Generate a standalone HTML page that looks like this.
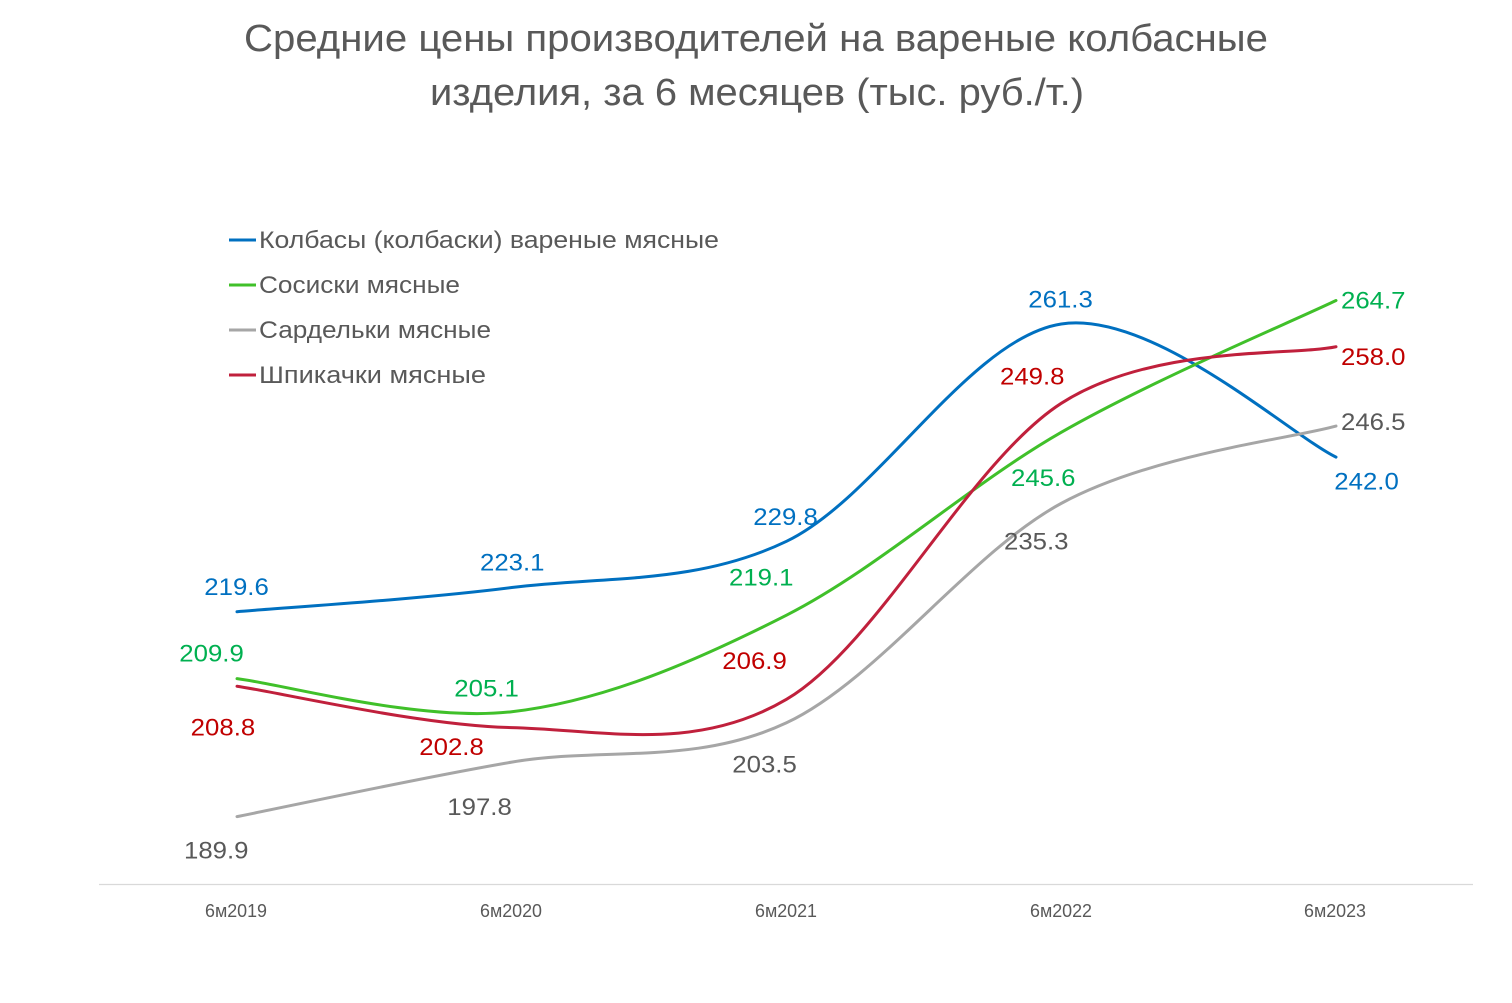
<!DOCTYPE html>
<html>
<head>
<meta charset="utf-8">
<style>
  html, body { margin:0; padding:0; background:#ffffff; }
  svg { display:block; }
  text { font-family: "Liberation Sans", "DejaVu Sans", sans-serif; }
</style>
</head>
<body>
<svg width="1512" height="1003" viewBox="0 0 1512 1003" xmlns="http://www.w3.org/2000/svg">
  <rect x="0" y="0" width="1512" height="1003" fill="#ffffff"/>

  <!-- Title -->
  <text x="244" y="51" font-size="38" fill="#595959" textLength="1024" lengthAdjust="spacingAndGlyphs">Средние цены производителей на вареные колбасные</text>
  <text x="430" y="105" font-size="38" fill="#595959" textLength="654" lengthAdjust="spacingAndGlyphs">изделия, за 6 месяцев (тыс. руб./т.)</text>

  <!-- Legend -->
  <line x1="229" y1="240" x2="256" y2="240" stroke="#0070C0" stroke-width="3"/>
  <text x="259" y="248" font-size="24" fill="#595959" textLength="460" lengthAdjust="spacingAndGlyphs">Колбасы (колбаски) вареные мясные</text>
  <line x1="229" y1="285" x2="256" y2="285" stroke="#40C02A" stroke-width="3"/>
  <text x="259" y="293" font-size="24" fill="#595959" textLength="201" lengthAdjust="spacingAndGlyphs">Сосиски мясные</text>
  <line x1="229" y1="330" x2="256" y2="330" stroke="#A6A6A6" stroke-width="3"/>
  <text x="259" y="338" font-size="24" fill="#595959" textLength="232" lengthAdjust="spacingAndGlyphs">Сардельки мясные</text>
  <line x1="229" y1="375" x2="256" y2="375" stroke="#C0203C" stroke-width="3"/>
  <text x="259" y="383" font-size="24" fill="#595959" textLength="227" lengthAdjust="spacingAndGlyphs">Шпикачки мясные</text>

  <!-- Axis line -->
  <line x1="99" y1="884.5" x2="1473" y2="884.5" stroke="#D9D9D9" stroke-width="1.2"/>

  <!-- Axis labels -->
  <g font-size="18" fill="#595959">
    <text x="205" y="917" textLength="62" lengthAdjust="spacingAndGlyphs">6м2019</text>
    <text x="480" y="917" textLength="62" lengthAdjust="spacingAndGlyphs">6м2020</text>
    <text x="755" y="917" textLength="62" lengthAdjust="spacingAndGlyphs">6м2021</text>
    <text x="1030" y="917" textLength="62" lengthAdjust="spacingAndGlyphs">6м2022</text>
    <text x="1304" y="917" textLength="62" lengthAdjust="spacingAndGlyphs">6м2023</text>
  </g>

  <!-- Series lines -->
  <g fill="none" stroke-width="3" stroke-linecap="round" stroke-linejoin="round">
    <path stroke="#0070C0" d="M237,611.7 C282.79,607.68 420.17,599.28 511.75,587.55 C603.33,575.82 694.92,585.25 786.5,541.32 C878.08,497.39 969.67,338.0 1061.25,323.97 C1152.83,309.94 1290.21,434.95 1336,457.14"/>
    <path stroke="#40C02A" d="M237,678.63 C282.79,684.15 420.17,722.33 511.75,711.75 C603.33,701.17 694.92,661.73 786.5,615.15 C878.08,568.58 969.67,484.74 1061.25,432.3 C1152.83,379.86 1290.21,322.48 1336,300.51"/>
    <path stroke="#A6A6A6" d="M237,816.63 C282.79,807.55 420.17,777.76 511.75,762.12 C603.33,746.48 694.92,765.92 786.5,722.79 C878.08,679.67 969.67,552.82 1061.25,503.37 C1152.83,453.92 1290.21,438.97 1336,426.09"/>
    <path stroke="#C0203C" d="M237,686.22 C282.79,693.12 420.17,725.44 511.75,727.62 C603.33,729.81 694.92,753.38 786.5,699.33 C878.08,645.28 969.67,462.09 1061.25,403.32 C1152.83,344.56 1290.21,356.17 1336,346.74"/>
  </g>

  <!-- Data labels: blue -->
  <g font-size="24" fill="#0070C0">
    <text x="204.3" y="595" textLength="64.5" lengthAdjust="spacingAndGlyphs">219.6</text>
    <text x="480" y="570.5" textLength="64.5" lengthAdjust="spacingAndGlyphs">223.1</text>
    <text x="753.3" y="525" textLength="64.5" lengthAdjust="spacingAndGlyphs">229.8</text>
    <text x="1028.3" y="307.3" textLength="64.5" lengthAdjust="spacingAndGlyphs">261.3</text>
    <text x="1334.3" y="489.3" textLength="64.5" lengthAdjust="spacingAndGlyphs">242.0</text>
  </g>
  <!-- green -->
  <g font-size="24" fill="#00B050">
    <text x="179.3" y="661.7" textLength="64.5" lengthAdjust="spacingAndGlyphs">209.9</text>
    <text x="454.3" y="696.7" textLength="64.5" lengthAdjust="spacingAndGlyphs">205.1</text>
    <text x="729" y="585.7" textLength="64.5" lengthAdjust="spacingAndGlyphs">219.1</text>
    <text x="1011" y="486" textLength="64.5" lengthAdjust="spacingAndGlyphs">245.6</text>
    <text x="1341" y="308.3" textLength="64.5" lengthAdjust="spacingAndGlyphs">264.7</text>
  </g>
  <!-- gray -->
  <g font-size="24" fill="#595959">
    <text x="184" y="858.5" textLength="64.5" lengthAdjust="spacingAndGlyphs">189.9</text>
    <text x="447.3" y="815" textLength="64.5" lengthAdjust="spacingAndGlyphs">197.8</text>
    <text x="732.3" y="772.7" textLength="64.5" lengthAdjust="spacingAndGlyphs">203.5</text>
    <text x="1004" y="549.3" textLength="64.5" lengthAdjust="spacingAndGlyphs">235.3</text>
    <text x="1341" y="430" textLength="64.5" lengthAdjust="spacingAndGlyphs">246.5</text>
  </g>
  <!-- red -->
  <g font-size="24" fill="#C00000">
    <text x="190.7" y="735.7" textLength="64.5" lengthAdjust="spacingAndGlyphs">208.8</text>
    <text x="419.3" y="755" textLength="64.5" lengthAdjust="spacingAndGlyphs">202.8</text>
    <text x="722.3" y="669" textLength="64.5" lengthAdjust="spacingAndGlyphs">206.9</text>
    <text x="1000" y="384.3" textLength="64.5" lengthAdjust="spacingAndGlyphs">249.8</text>
    <text x="1341" y="365" textLength="64.5" lengthAdjust="spacingAndGlyphs">258.0</text>
  </g>
</svg>
</body>
</html>
